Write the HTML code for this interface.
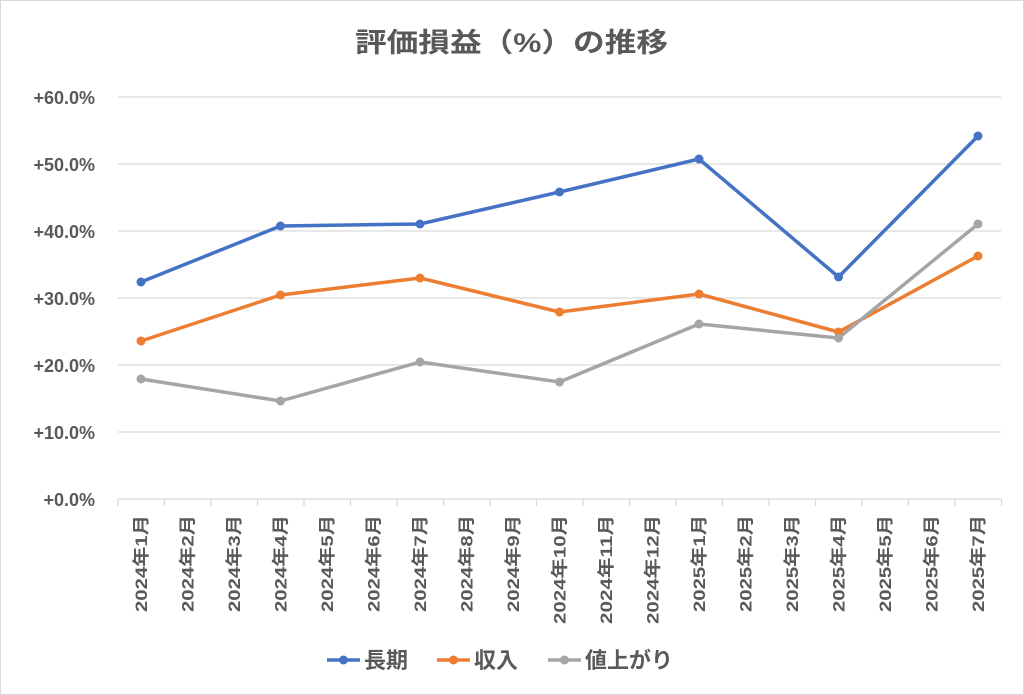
<!DOCTYPE html>
<html><head><meta charset="utf-8"><style>
body{margin:0;background:#fff}
svg{display:block;font-family:"Liberation Sans","Noto Sans CJK JP",sans-serif}
</style></head><body>
<svg width="1024" height="695" viewBox="0 0 1024 695">
<rect x="0.5" y="0.5" width="1023" height="694" fill="#fff" stroke="#d9d9d9"/>
<text x="355" y="52" textLength="313" lengthAdjust="spacingAndGlyphs" font-size="27" font-weight="bold" fill="#595959">評価損益（%）の推移</text>
<g stroke="#d9d9d9" stroke-width="1.3">
<line x1="118" y1="97" x2="1001" y2="97"/><line x1="118" y1="164" x2="1001" y2="164"/>
<line x1="118" y1="231" x2="1001" y2="231"/><line x1="118" y1="298" x2="1001" y2="298"/>
<line x1="118" y1="365" x2="1001" y2="365"/><line x1="118" y1="432" x2="1001" y2="432"/>
<line x1="118" y1="499" x2="1001" y2="499"/>
</g>
<g id="ticks" stroke="#d9d9d9" stroke-width="1.3"></g>
<g font-size="18" font-weight="bold" fill="#595959" text-anchor="end">
<text x="95" y="104">+60.0%</text><text x="95" y="171">+50.0%</text><text x="95" y="238">+40.0%</text>
<text x="95" y="305">+30.0%</text><text x="95" y="372">+20.0%</text><text x="95" y="439">+10.0%</text>
<text x="95" y="506">+0.0%</text>
</g>
<g id="labels" font-size="17" font-weight="bold" fill="#595959" text-anchor="end"></g>
<g fill="none" stroke-width="3.5" stroke-linejoin="round">
<polyline stroke="#4472c4" points="141,282 280.5,226 420,224 559.5,192 699,159 838.5,277 978,136"/>
<polyline stroke="#ed7d31" points="141,341 280.5,295 420,278 559.5,312 699,294 838.5,332 978,256"/>
<polyline stroke="#a5a5a5" points="141,379 280.5,401 420,362 559.5,382 699,324 838.5,338 978,224"/>
</g>
<g id="dots"></g>
<g font-size="22" font-weight="bold" fill="#595959">
<line x1="327" y1="660" x2="360" y2="660" stroke="#4472c4" stroke-width="3.5"/><circle cx="343.5" cy="660" r="4.5" fill="#4472c4"/>
<text x="364" y="668">長期</text>
<line x1="437" y1="660" x2="470" y2="660" stroke="#ed7d31" stroke-width="3.5"/><circle cx="453.5" cy="660" r="4.5" fill="#ed7d31"/>
<text x="474" y="668">収入</text>
<line x1="548" y1="660" x2="581" y2="660" stroke="#a5a5a5" stroke-width="3.5"/><circle cx="564.5" cy="660" r="4.5" fill="#a5a5a5"/>
<text x="585" y="668">値上がり</text>
</g>
</svg>
<script>
var ns="http://www.w3.org/2000/svg";
var t=document.getElementById("ticks"),l=document.getElementById("labels"),d=document.getElementById("dots");
for(var i=0;i<=19;i++){var x=118+i*46.5;var e=document.createElementNS(ns,"line");e.setAttribute("x1",x);e.setAttribute("x2",x);e.setAttribute("y1",499);e.setAttribute("y2",506);t.appendChild(e);}
for(var i=0;i<19;i++){var y=2024+Math.floor(i/12),m=i%12+1;var x=141+i*46.5+6;var e=document.createElementNS(ns,"text");e.setAttribute("transform","translate("+x+",515) rotate(-90)");e.setAttribute("textLength",m>=10?109:97);e.setAttribute("lengthAdjust","spacingAndGlyphs");e.textContent=y+"年"+m+"月";l.appendChild(e);}
var s=[["#4472c4",[282,226,224,192,159,277,136]],["#ed7d31",[341,295,278,312,294,332,256]],["#a5a5a5",[379,401,362,382,324,338,224]]];
s.forEach(function(a){a[1].forEach(function(y,k){var c=document.createElementNS(ns,"circle");c.setAttribute("cx",141+k*139.5);c.setAttribute("cy",y);c.setAttribute("r",4.5);c.setAttribute("fill",a[0]);d.appendChild(c);});});
</script>
</body></html>
